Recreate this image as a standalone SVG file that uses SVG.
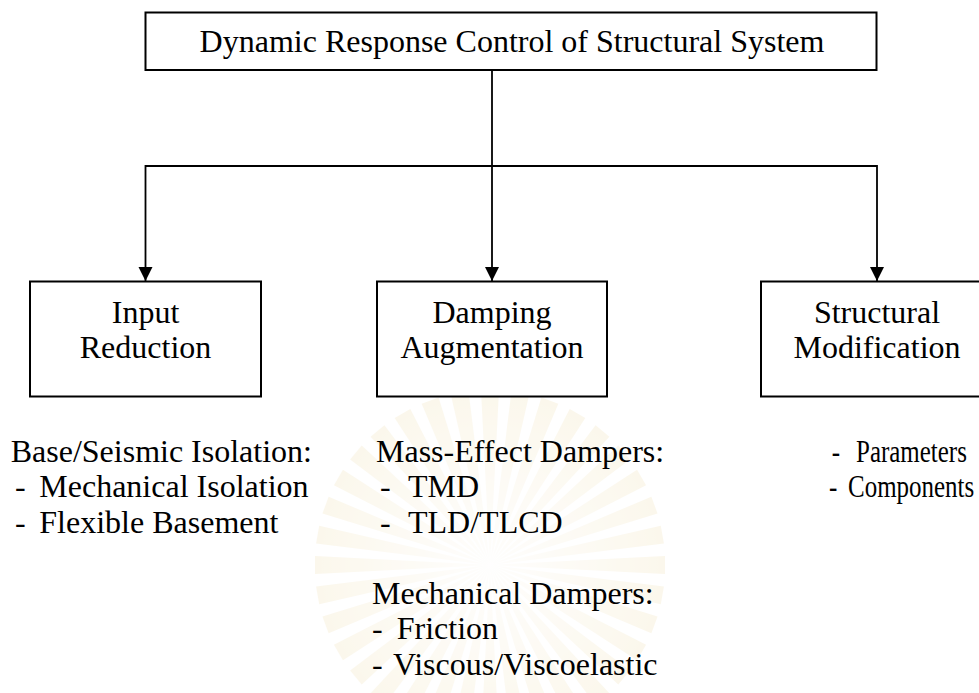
<svg xmlns="http://www.w3.org/2000/svg" width="979" height="693" viewBox="0 0 979 693">
  <defs>
    <style>
      .box { fill: #ffffff; stroke: #000000; stroke-width: 2; }
      .conn { fill: none; stroke: #000000; stroke-width: 1.8; }
      .t { font-family: "Liberation Serif", "Times New Roman", serif; font-size: 32px; fill: #000000; }
      .c { text-anchor: middle; }
      .ray { fill: #f8efd6; }
    </style>
    <marker id="arr" markerWidth="16" markerHeight="16" refX="14" refY="7" orient="auto" markerUnits="userSpaceOnUse">
      <path d="M0,0 L14,7 L0,14 Z" fill="#000000"/>
    </marker>
    <path id="wedge" d="M0,0 L175,-9 L175,9 Z"/>
    <radialGradient id="wmfade" cx="0.5" cy="0.5" r="0.5">
      <stop offset="0" stop-color="#ffffff" stop-opacity="0.9"/>
      <stop offset="0.35" stop-color="#ffffff" stop-opacity="0.6"/>
      <stop offset="1" stop-color="#ffffff" stop-opacity="0"/>
    </radialGradient>
  </defs>
  <rect x="0" y="0" width="979" height="693" fill="#ffffff"/>

  <g id="watermark" opacity="0.45" transform="translate(490,565)">
    <g class="ray">
      <use href="#wedge" transform="rotate(0)"/>
      <use href="#wedge" transform="rotate(10)"/>
      <use href="#wedge" transform="rotate(20)"/>
      <use href="#wedge" transform="rotate(30)"/>
      <use href="#wedge" transform="rotate(40)"/>
      <use href="#wedge" transform="rotate(50)"/>
      <use href="#wedge" transform="rotate(60)"/>
      <use href="#wedge" transform="rotate(70)"/>
      <use href="#wedge" transform="rotate(80)"/>
      <use href="#wedge" transform="rotate(90)"/>
      <use href="#wedge" transform="rotate(100)"/>
      <use href="#wedge" transform="rotate(110)"/>
      <use href="#wedge" transform="rotate(120)"/>
      <use href="#wedge" transform="rotate(130)"/>
      <use href="#wedge" transform="rotate(140)"/>
      <use href="#wedge" transform="rotate(150)"/>
      <use href="#wedge" transform="rotate(160)"/>
      <use href="#wedge" transform="rotate(170)"/>
      <use href="#wedge" transform="rotate(180)"/>
      <use href="#wedge" transform="rotate(190)"/>
      <use href="#wedge" transform="rotate(200)"/>
      <use href="#wedge" transform="rotate(210)"/>
      <use href="#wedge" transform="rotate(220)"/>
      <use href="#wedge" transform="rotate(230)"/>
      <use href="#wedge" transform="rotate(240)"/>
      <use href="#wedge" transform="rotate(250)"/>
      <use href="#wedge" transform="rotate(260)"/>
      <use href="#wedge" transform="rotate(270)"/>
      <use href="#wedge" transform="rotate(280)"/>
      <use href="#wedge" transform="rotate(290)"/>
      <use href="#wedge" transform="rotate(300)"/>
      <use href="#wedge" transform="rotate(310)"/>
      <use href="#wedge" transform="rotate(320)"/>
      <use href="#wedge" transform="rotate(330)"/>
      <use href="#wedge" transform="rotate(340)"/>
      <use href="#wedge" transform="rotate(350)"/>
    </g>
    <circle cx="0" cy="0" r="175" fill="url(#wmfade)"/>
  </g>

  <g id="connectors">
    <path class="conn" d="M492,70 V281" marker-end="url(#arr)"/>
    <path class="conn" d="M492,166 H145.5 V281" marker-end="url(#arr)"/>
    <path class="conn" d="M492,166 H877 V281" marker-end="url(#arr)"/>
  </g>

  <g id="root">
    <rect class="box" x="145.5" y="12.5" width="731" height="57.5"/>
    <text class="t c" x="512" y="52">Dynamic Response Control of Structural System</text>
  </g>

  <g id="input-reduction">
    <rect class="box" x="30" y="281.5" width="231" height="115"/>
    <text class="t c" x="145.5" y="322.5">Input</text>
    <text class="t c" x="145.5" y="358">Reduction</text>
  </g>

  <g id="damping-augmentation">
    <rect class="box" x="377" y="281.5" width="230" height="115"/>
    <text class="t c" x="492" y="322.5">Damping</text>
    <text class="t c" x="492" y="358">Augmentation</text>
  </g>

  <g id="structural-modification">
    <rect class="box" x="761" y="281.5" width="232" height="115"/>
    <text class="t c" x="877" y="322.5">Structural</text>
    <text class="t c" x="877" y="358">Modification</text>
  </g>

  <g id="input-list">
    <text class="t" x="10.7" y="461.5">Base/Seismic Isolation:</text>
    <text class="t" y="497"><tspan x="15">-</tspan><tspan x="39.3">Mechanical Isolation</tspan></text>
    <text class="t" y="532.5"><tspan x="15">-</tspan><tspan x="39.3">Flexible Basement</tspan></text>
  </g>

  <g id="damping-list">
    <text class="t" x="376" y="461.5">Mass-Effect Dampers:</text>
    <text class="t" y="497"><tspan x="380">-</tspan><tspan x="408">TMD</tspan></text>
    <text class="t" y="532.5"><tspan x="380">-</tspan><tspan x="408">TLD/TLCD</tspan></text>
    <text class="t" x="372" y="603.5">Mechanical Dampers:</text>
    <text class="t" y="639"><tspan x="372">-</tspan><tspan x="396.7">Friction</tspan></text>
    <text class="t" y="674.5"><tspan x="372">-</tspan><tspan x="393">Viscous/Viscoelastic</tspan></text>
  </g>

  <g id="structural-list">
    <g transform="translate(831.7,461.5) scale(0.78,1)">
      <text class="t" x="0" y="0">-</text>
      <text class="t" x="31.2" y="0">Parameters</text>
    </g>
    <g transform="translate(829,497) scale(0.78,1)">
      <text class="t" x="0" y="0">-</text>
      <text class="t" x="24.4" y="0">Components</text>
    </g>
  </g>
</svg>
